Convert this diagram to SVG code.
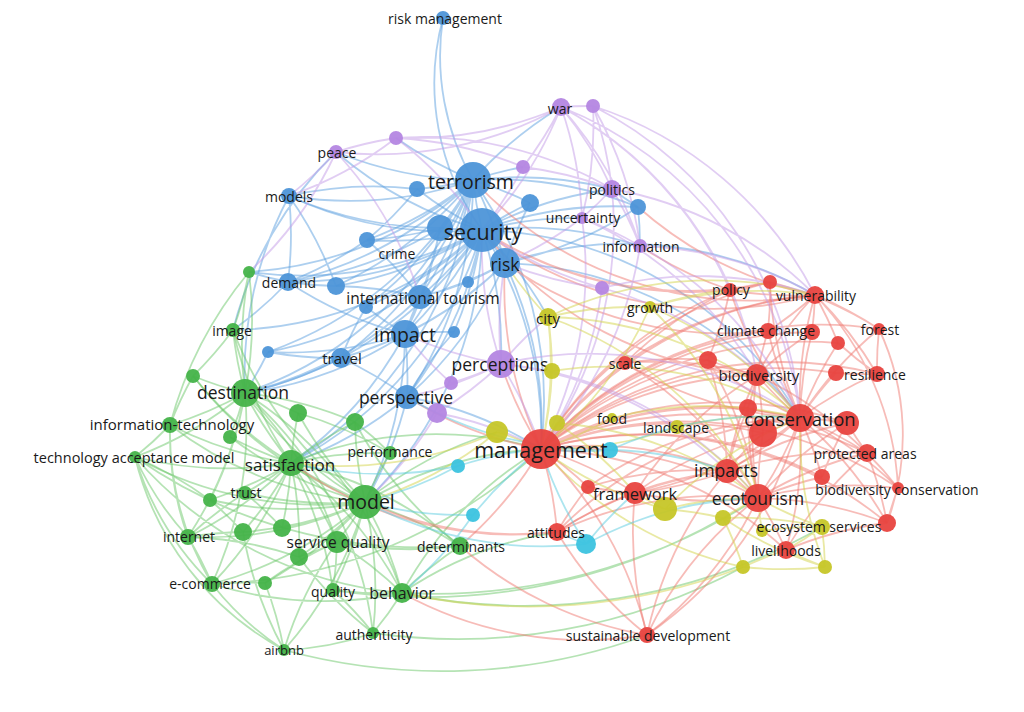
<svg xmlns="http://www.w3.org/2000/svg" width="1024" height="712" viewBox="0 0 1024 712">
<style>
.e{fill:none;stroke-width:1.8;stroke-opacity:.5}
.eb{stroke:#5c9fe0}.eg{stroke:#6cc76a}.er{stroke:#f07a72}.ep{stroke:#c39be8}.ey{stroke:#d4d44a}.ec{stroke:#5accdf}
.nb{fill:#4d95d8}.ng{fill:#45b349}.nr{fill:#e8433f}.np{fill:#b486e2}.ny{fill:#c6c628}.nc{fill:#3cc3df}
circle{fill-opacity:.95}
text{font-family:"Open Sans","DejaVu Sans",sans-serif;fill:#1a1a1a;text-anchor:middle;dominant-baseline:central}
</style>
<rect width="1024" height="712" fill="#fff"/>
<g id="connectors">
<path class="e eb" d="M482 230A380 380 0 0 1 473 180M482 230A380 380 0 0 1 440 228M482 230A380 380 0 0 1 417 189M482 230A380 380 0 0 1 530 203M482 230A380 380 0 0 1 638 207M482 230A380 380 0 0 1 289 196M482 230A380 380 0 0 1 367 240M482 230A380 380 0 0 1 505 263M482 230A380 380 0 0 1 288 282M482 230A380 380 0 0 1 336 286M482 230A380 380 0 0 1 420 297M482 230A380 380 0 0 1 366 307M482 230A380 380 0 0 1 468 282M482 230A380 380 0 0 1 405 334M482 230A380 380 0 0 1 454 332M482 230A380 380 0 0 1 341 358M482 230A380 380 0 0 1 407 397M482 230A380 380 0 0 1 268 352M482 230A380 380 0 0 1 245 393M482 230A380 380 0 0 1 291 463M482 230A380 380 0 0 1 233 330M482 230A380 380 0 0 1 541 449M482 230A380 380 0 0 1 612 189M482 230A380 380 0 0 1 640 246M482 230A380 380 0 0 1 501 364M482 230A380 380 0 0 1 800 418M482 230A380 380 0 0 1 336 152M482 230A380 380 0 0 1 365 502M482 230A380 380 0 0 1 582 218M482 230A380 380 0 0 1 548 317M482 230A380 380 0 0 1 249 272M482 230A250 250 0 0 1 443 18"/>
<path class="e eb" d="M473 180A250 250 0 0 1 443 18M473 180A380 380 0 0 1 440 228M473 180A380 380 0 0 1 417 189M473 180A380 380 0 0 1 530 203M473 180A380 380 0 0 1 638 207M473 180A380 380 0 0 1 289 196M473 180A380 380 0 0 1 367 240M473 180A380 380 0 0 1 505 263M473 180A380 380 0 0 1 288 282M473 180A380 380 0 0 1 336 286M473 180A380 380 0 0 1 420 297M473 180A380 380 0 0 1 405 334M473 180A380 380 0 0 1 341 358M473 180A380 380 0 0 1 407 397M473 180A380 380 0 0 1 245 393M473 180A380 380 0 0 1 249 272M473 180A380 380 0 0 1 561 107M473 180A380 380 0 0 1 612 189M473 180A380 380 0 0 1 336 152M473 180A380 380 0 0 1 396 138M473 180A380 380 0 0 1 523 167M473 180A380 380 0 0 1 541 449M473 180A380 380 0 0 1 291 463M473 180A380 380 0 0 1 366 307M473 180A380 380 0 0 1 268 352"/>
<path class="e eb" d="M440 228A380 380 0 0 1 367 240M440 228A380 380 0 0 1 405 334M440 228A380 380 0 0 1 420 297M440 228A380 380 0 0 1 288 282M440 228A380 380 0 0 1 289 196M505 263A380 380 0 0 1 405 334M505 263A380 380 0 0 1 420 297M505 263A380 380 0 0 1 341 358M505 263A380 380 0 0 1 407 397M505 263A380 380 0 0 1 468 282M505 263A380 380 0 0 1 530 203M405 334A380 380 0 0 1 341 358M405 334A380 380 0 0 1 420 297M405 334A380 380 0 0 1 407 397M405 334A380 380 0 0 1 288 282M405 334A380 380 0 0 1 366 307M405 334A380 380 0 0 1 454 332M405 334A380 380 0 0 1 268 352M367 240A380 380 0 0 1 288 282M367 240A380 380 0 0 1 420 297M289 196A380 380 0 0 1 288 282M289 196A380 380 0 0 1 336 286M289 196A380 380 0 0 1 417 189M341 358A380 380 0 0 1 407 397M341 358A380 380 0 0 1 268 352M341 358A380 380 0 0 1 366 307M336 286A380 380 0 0 1 420 297M336 286A380 380 0 0 1 288 282M468 282A380 380 0 0 1 420 297M407 397A380 380 0 0 1 454 332M417 189A380 380 0 0 1 367 240M638 207A380 380 0 0 1 612 189M638 207A380 380 0 0 1 640 246M638 207A380 380 0 0 1 505 263M341 358A380 380 0 0 1 245 393M405 334A380 380 0 0 1 245 393M405 334A380 380 0 0 1 291 463M405 334A380 380 0 0 1 365 502M407 397A380 380 0 0 1 365 502M407 397A380 380 0 0 1 291 463M505 263A380 380 0 0 1 541 449M505 263A380 380 0 0 1 815 295M505 263A380 380 0 0 1 800 418M288 282A380 380 0 0 1 233 330M288 282A380 380 0 0 1 249 272M268 352A380 380 0 0 1 245 393M407 397A380 380 0 0 1 541 449M420 297A380 380 0 0 1 245 393M289 196A380 380 0 0 0 245 393M336 152A380 380 0 0 0 233 330"/>
<path class="e eg" d="M365 502A380 380 0 0 1 291 463M365 502A380 380 0 0 1 245 393M365 502A380 380 0 0 1 337 542M365 502A380 380 0 0 1 402 593M365 502A380 380 0 0 1 333 590M365 502A380 380 0 0 1 460 546M365 502A380 380 0 0 1 245 493M365 502A380 380 0 0 1 188 537M365 502A380 380 0 0 1 212 584M365 502A380 380 0 0 1 355 422M365 502A380 380 0 0 1 298 413M365 502A380 380 0 0 1 390 453M365 502A380 380 0 0 1 243 532M365 502A380 380 0 0 1 282 528M365 502A380 380 0 0 1 299 557M365 502A380 380 0 0 1 373 633M365 502A380 380 0 0 1 284 650M365 502A380 380 0 0 1 170 425M365 502A380 380 0 0 1 230 437M365 502A380 380 0 0 1 135 457M365 502A380 380 0 0 1 210 500M365 502A380 380 0 0 1 265 583M365 502A380 380 0 0 1 193 376M365 502A380 380 0 0 1 233 330M365 502A380 380 0 0 1 541 449M365 502A380 380 0 0 1 497 432"/>
<path class="e eg" d="M291 463A380 380 0 0 1 245 393M291 463A380 380 0 0 1 337 542M291 463A380 380 0 0 1 245 493M291 463A380 380 0 0 1 298 413M291 463A380 380 0 0 1 230 437M291 463A380 380 0 0 1 170 425M291 463A380 380 0 0 1 135 457M291 463A380 380 0 0 1 210 500M291 463A380 380 0 0 1 243 532M291 463A380 380 0 0 1 282 528M291 463A380 380 0 0 1 333 590M291 463A380 380 0 0 1 402 593M291 463A380 380 0 0 1 188 537M291 463A380 380 0 0 1 212 584M291 463A380 380 0 0 1 355 422M291 463A380 380 0 0 1 390 453M291 463A380 380 0 0 1 299 557M291 463A380 380 0 0 1 460 546M291 463A380 380 0 0 1 541 449M291 463A380 380 0 0 1 193 376M291 463A380 380 0 0 1 233 330"/>
<path class="e eg" d="M245 393A380 380 0 0 1 233 330M245 393A380 380 0 0 1 249 272M245 393A380 380 0 0 1 193 376M245 393A380 380 0 0 1 170 425M245 393A380 380 0 0 1 230 437M245 393A380 380 0 0 1 298 413M245 393A380 380 0 0 1 135 457M245 393A380 380 0 0 1 402 593M245 393A380 380 0 0 1 373 633M245 393A380 380 0 0 1 188 537M245 393A380 380 0 0 1 212 584M245 393A380 380 0 0 1 337 542M245 393A380 380 0 0 1 355 422M245 393A380 380 0 0 1 210 500M170 425A380 380 0 0 1 135 457M170 425A300 300 0 0 0 188 537M170 425A300 300 0 0 0 212 584M170 425A380 380 0 0 1 193 376M135 457A300 300 0 0 0 188 537M135 457A300 300 0 0 0 212 584M135 457A380 380 0 0 1 210 500M135 457A300 300 0 0 0 284 650M188 537A380 380 0 0 1 212 584M188 537A380 380 0 0 1 243 532M188 537A380 380 0 0 1 245 493M212 584A380 380 0 0 1 265 583M212 584A300 300 0 0 0 284 650M265 583A380 380 0 0 1 284 650M265 583A380 380 0 0 1 337 542M337 542A380 380 0 0 1 333 590M337 542A380 380 0 0 1 402 593M337 542A380 380 0 0 1 299 557M402 593A380 380 0 0 1 373 633M402 593A380 380 0 0 1 460 546M402 593A380 380 0 0 1 333 590M333 590A380 380 0 0 1 373 633M284 650A380 380 0 0 1 243 532M284 650A380 380 0 0 1 337 542M373 633A380 380 0 0 1 299 557M460 546A380 380 0 0 1 355 422M249 272A380 380 0 0 1 233 330M249 272A380 380 0 0 1 245 393M233 330A380 380 0 0 1 193 376M355 422A380 380 0 0 1 390 453M298 413A380 380 0 0 1 390 453M460 546A380 380 0 0 1 337 542M402 593A380 380 0 0 1 541 449M402 593A380 380 0 0 1 557 532M402 593A600 600 0 0 0 758 498M333 590A600 600 0 0 0 723 518M284 650A600 600 0 0 0 647 635M135 457A400 400 0 0 0 402 593M212 584A380 380 0 0 0 402 593M284 650A300 300 0 0 0 373 633M188 537A380 380 0 0 1 299 557M249 272A400 400 0 0 0 170 425M210 500A380 380 0 0 1 243 532M245 493A380 380 0 0 1 282 528M373 633A600 600 0 0 0 743 567M402 593A600 600 0 0 0 822 527M135 457A500 500 0 0 0 460 546M212 584A500 500 0 0 0 541 449"/>
<path class="e er" d="M541 449A380 380 0 0 1 800 418M541 449A380 380 0 0 1 727 471M541 449A380 380 0 0 1 635 493M541 449A380 380 0 0 1 758 498M541 449A380 380 0 0 1 757 375M541 449A380 380 0 0 1 625 363M541 449A380 380 0 0 1 557 532M541 449A380 380 0 0 1 647 635M541 449A380 380 0 0 1 588 487M541 449A380 380 0 0 1 867 453M541 449A380 380 0 0 1 815 295M541 449A380 380 0 0 1 768 331M541 449A380 380 0 0 1 786 550M541 449A380 380 0 0 1 730 290M541 449A380 380 0 0 1 708 360M541 449A380 380 0 0 1 748 408M541 449A380 380 0 0 1 763 433M541 449A380 380 0 0 1 847 423M541 449A380 380 0 0 1 877 374M541 449A380 380 0 0 1 501 364M541 449A380 380 0 0 1 460 546M541 449A380 380 0 0 1 887 523M541 449A380 380 0 0 1 898 488"/>
<path class="e er" d="M800 418A380 380 0 0 1 757 375M800 418A380 380 0 0 1 763 433M800 418A380 380 0 0 1 847 423M800 418A380 380 0 0 1 867 453M800 418A380 380 0 0 1 748 408M800 418A380 380 0 0 1 727 471M800 418A380 380 0 0 1 758 498M800 418A380 380 0 0 1 822 477M800 418A380 380 0 0 1 815 295M800 418A380 380 0 0 1 768 331M800 418A380 380 0 0 1 812 332M800 418A380 380 0 0 1 879 329M800 418A380 380 0 0 1 877 374M800 418A380 380 0 0 1 836 373M800 418A380 380 0 0 1 898 488M800 418A380 380 0 0 1 887 523M800 418A380 380 0 0 1 786 550M800 418A380 380 0 0 1 838 343M800 418A380 380 0 0 1 708 360M800 418A380 380 0 0 1 625 363M800 418A380 380 0 0 1 635 493M800 418A380 380 0 0 1 647 635M800 418A380 380 0 0 1 730 290M800 418A380 380 0 0 1 770 282"/>
<path class="e er" d="M758 498A380 380 0 0 1 867 453M758 498A380 380 0 0 1 727 471M758 498A380 380 0 0 1 786 550M758 498A380 380 0 0 1 898 488M758 498A380 380 0 0 1 887 523M758 498A380 380 0 0 1 822 477M758 498A380 380 0 0 1 757 375M758 498A380 380 0 0 1 635 493M758 498A380 380 0 0 1 647 635M758 498A380 380 0 0 1 763 433M758 498A380 380 0 0 1 847 423M758 498A380 380 0 0 1 748 408M727 471A380 380 0 0 1 635 493M727 471A380 380 0 0 1 748 408M727 471A380 380 0 0 1 867 453M727 471A380 380 0 0 1 757 375M757 375A380 380 0 0 1 768 331M757 375A380 380 0 0 1 708 360M757 375A380 380 0 0 1 867 453M757 375A380 380 0 0 1 812 332M815 295A380 380 0 0 1 768 331M815 295A380 380 0 0 1 770 282M815 295A380 380 0 0 1 730 290M815 295A380 380 0 0 1 812 332M815 295A380 380 0 0 1 879 329M815 295A380 380 0 0 1 877 374M815 295A380 380 0 0 1 838 343M770 282A380 380 0 0 1 730 290M770 282A380 380 0 0 1 768 331M770 282A380 380 0 0 1 879 329M877 374A380 380 0 0 1 879 329M877 374A380 380 0 0 1 836 373M877 374A380 380 0 0 1 838 343M867 453A380 380 0 0 1 887 523M867 453A380 380 0 0 1 898 488M867 453A380 380 0 0 1 847 423M887 523A380 380 0 0 1 898 488M822 477A380 380 0 0 1 847 423M786 550A380 380 0 0 1 887 523M786 550A380 380 0 0 1 867 453M647 635A380 380 0 0 1 557 532M647 635A380 380 0 0 1 635 493M647 635A380 380 0 0 1 758 498M647 635A380 380 0 0 1 727 471M557 532A380 380 0 0 1 635 493M557 532A380 380 0 0 1 588 487M625 363A380 380 0 0 1 730 290M625 363A380 380 0 0 1 708 360M625 363A380 380 0 0 1 815 295M730 290A380 380 0 0 1 708 360M635 493A380 380 0 0 1 588 487M879 329A250 250 0 0 1 887 523M815 295A300 300 0 0 1 898 488M730 290A380 380 0 0 1 640 246M815 295A380 380 0 0 1 638 207M557 532A380 380 0 0 1 365 502M557 532A380 380 0 0 1 291 463M647 635A380 380 0 0 1 402 593M647 635A380 380 0 0 1 460 546M541 449A380 380 0 0 1 407 397M541 449A380 380 0 0 1 505 263"/>
<path class="e er" d="M541 449A380 380 0 0 1 770 282M541 449A380 380 0 0 1 879 329M541 449A380 380 0 0 1 838 343M541 449A380 380 0 0 1 836 373M541 449A380 380 0 0 1 822 477M541 449A380 380 0 0 1 812 332M625 363A380 380 0 0 1 757 375M625 363A380 380 0 0 1 758 498M635 493A380 380 0 0 1 757 375M635 493A380 380 0 0 1 727 471M635 493A380 380 0 0 1 763 433M557 532A380 380 0 0 1 758 498M557 532A380 380 0 0 1 800 418M557 532A380 380 0 0 1 727 471M588 487A380 380 0 0 1 800 418M588 487A380 380 0 0 1 727 471M727 471A380 380 0 0 1 763 433M727 471A380 380 0 0 1 847 423M757 375A380 380 0 0 1 748 408M757 375A380 380 0 0 1 763 433M757 375A380 380 0 0 1 815 295M708 360A380 380 0 0 1 727 471M708 360A380 380 0 0 1 758 498M815 295A380 380 0 0 1 482 230M815 295A380 380 0 0 1 473 180M730 290A380 380 0 0 1 482 230M757 375A380 380 0 0 1 482 230M770 282A380 380 0 0 1 482 230M768 331A380 380 0 0 1 505 263"/>
<path class="e ep" d="M561 107A380 380 0 0 1 593 106M561 107A380 380 0 0 1 523 167M561 107A380 380 0 0 1 482 230M561 107A380 380 0 0 1 612 189M561 107A380 380 0 0 1 582 218M561 107A380 380 0 0 1 640 246M561 107A380 380 0 0 1 396 138M561 107A380 380 0 0 1 336 152M593 106A380 380 0 0 1 612 189M593 106A380 380 0 0 1 582 218M593 106A380 380 0 0 1 640 246M593 106A380 380 0 0 1 815 295M561 107A380 380 0 0 1 730 290M336 152A380 380 0 0 1 396 138M336 152A380 380 0 0 1 289 196M336 152A380 380 0 0 1 420 297M396 138A380 380 0 0 1 482 230M396 138A380 380 0 0 1 523 167M396 138A380 380 0 0 1 612 189M523 167A380 380 0 0 1 482 230M523 167A380 380 0 0 1 612 189M612 189A380 380 0 0 1 582 218M612 189A380 380 0 0 1 640 246M612 189A380 380 0 0 1 815 295M582 218A380 380 0 0 1 505 263M582 218A380 380 0 0 1 640 246M640 246A380 380 0 0 1 800 418M602 288A380 380 0 0 1 505 263M602 288A380 380 0 0 1 482 230M602 288A380 380 0 0 1 541 449M501 364A380 380 0 0 1 505 263M501 364A380 380 0 0 1 405 334M501 364A380 380 0 0 1 541 449M501 364A380 380 0 0 1 451 383M501 364A380 380 0 0 1 437 413M501 364A380 380 0 0 1 548 317M501 364A380 380 0 0 1 407 397M451 383A380 380 0 0 1 405 334M437 413A380 380 0 0 1 407 397M437 413A380 380 0 0 1 541 449M437 413A380 380 0 0 1 365 502M582 218A380 380 0 0 1 757 375M612 189A380 380 0 0 1 541 449M336 152A380 380 0 0 1 249 272M396 138A380 380 0 0 1 289 196M561 107A380 380 0 0 1 800 418M501 364A380 380 0 0 1 482 230M501 364A380 380 0 0 1 800 418M501 364A380 380 0 0 1 727 471M501 364A380 380 0 0 1 758 498M602 288A380 380 0 0 1 800 418M602 288A380 380 0 0 1 815 295M640 246A380 380 0 0 1 815 295M640 246A380 380 0 0 1 541 449M561 107A380 380 0 0 1 757 375M593 106A380 380 0 0 1 800 418M582 218A380 380 0 0 1 541 449"/>
<path class="e ey" d="M548 317A380 380 0 0 1 505 263M548 317A380 380 0 0 1 541 449M548 317A380 380 0 0 1 552 371M548 317A380 380 0 0 1 650 307M548 317A380 380 0 0 1 758 498M552 371A380 380 0 0 1 541 449M497 432A380 380 0 0 1 541 449M557 423A380 380 0 0 1 541 449M612 418A380 380 0 0 1 541 449M677 427A380 380 0 0 1 800 418M677 427A380 380 0 0 1 541 449M665 509A380 380 0 0 1 541 449M665 509A380 380 0 0 1 635 493M665 509A380 380 0 0 1 758 498M665 509A380 380 0 0 1 723 518M723 518A380 380 0 0 1 758 498M723 518A380 380 0 0 1 822 527M723 518A380 380 0 0 1 743 567M762 531A380 380 0 0 1 758 498M762 531A380 380 0 0 1 822 527M822 527A380 380 0 0 1 758 498M822 527A380 380 0 0 1 786 550M822 527A380 380 0 0 1 825 567M743 567A380 380 0 0 1 786 550M743 567A380 380 0 0 0 825 567M825 567A380 380 0 0 1 786 550M743 567A380 380 0 0 1 541 449M825 567A380 380 0 0 1 800 418M650 307A380 380 0 0 1 815 295M650 307A380 380 0 0 1 730 290M650 307A380 380 0 0 1 541 449M497 432A380 380 0 0 1 365 502M557 423A380 380 0 0 1 635 493M743 567A600 600 0 0 1 402 593M825 567A380 380 0 0 1 723 518M665 509A380 380 0 0 1 800 418M497 432A380 380 0 0 1 291 463M548 317A380 380 0 0 1 800 418M548 317A380 380 0 0 1 815 295M650 307A380 380 0 0 1 800 418M650 307A380 380 0 0 1 758 498M552 371A380 380 0 0 1 800 418M677 427A380 380 0 0 1 758 498M557 423A380 380 0 0 1 758 498M612 418A380 380 0 0 1 800 418"/>
<path class="e ec" d="M610 450A380 380 0 0 1 541 449M610 450A380 380 0 0 1 800 418M458 466A380 380 0 0 1 541 449M458 466A380 380 0 0 1 365 502M473 515A380 380 0 0 1 541 449M473 515A380 380 0 0 1 365 502M586 544A380 380 0 0 1 541 449M586 544A380 380 0 0 1 557 532M586 544A380 380 0 0 1 635 493M586 544A380 380 0 0 1 758 498M458 466A380 380 0 0 1 291 463M473 515A380 380 0 0 1 402 593M610 450A380 380 0 0 1 407 397M586 544A380 380 0 0 1 365 502M610 450A380 380 0 0 1 727 471"/>
</g>
<g id="nodes">
<g id="n-risk-management"><circle class="nb" cx="443" cy="18" r="7"/><text x="445" y="18" font-size="14">risk management</text></g>
<g id="n-terrorism"><circle class="nb" cx="473" cy="180" r="18"/><text x="471" y="181" font-size="19.5">terrorism</text></g>
<g id="n-blue-1"><circle class="nb" cx="440" cy="228" r="13"/></g>
<g id="n-security"><circle class="nb" cx="482" cy="230" r="22"/><text x="483" y="231" font-size="21.5">security</text></g>
<g id="n-blue-2"><circle class="nb" cx="417" cy="189" r="8"/></g>
<g id="n-blue-3"><circle class="nb" cx="530" cy="203" r="9"/></g>
<g id="n-blue-4"><circle class="nb" cx="638" cy="207" r="8"/></g>
<g id="n-models"><circle class="nb" cx="289" cy="196" r="8"/><text x="289" y="196" font-size="14">models</text></g>
<g id="n-crime"><circle class="nb" cx="367" cy="240" r="8"/><text x="397" y="253" font-size="14">crime</text></g>
<g id="n-risk"><circle class="nb" cx="505" cy="263" r="15"/><text x="505" y="264" font-size="17.5">risk</text></g>
<g id="n-demand"><circle class="nb" cx="288" cy="282" r="9"/><text x="289" y="282" font-size="14">demand</text></g>
<g id="n-blue-5"><circle class="nb" cx="336" cy="286" r="9"/></g>
<g id="n-blue-6"><circle class="nb" cx="366" cy="307" r="7"/></g>
<g id="n-blue-7"><circle class="nb" cx="468" cy="282" r="6"/></g>
<g id="n-international-tourism"><circle class="nb" cx="420" cy="297" r="12"/><text x="423" y="298" font-size="15.5">international tourism</text></g>
<g id="n-impact"><circle class="nb" cx="405" cy="334" r="14"/><text x="405" y="334" font-size="19.5">impact</text></g>
<g id="n-blue-8"><circle class="nb" cx="454" cy="332" r="6"/></g>
<g id="n-travel"><circle class="nb" cx="341" cy="358" r="10"/><text x="342" y="358" font-size="15">travel</text></g>
<g id="n-blue-9"><circle class="nb" cx="268" cy="352" r="6"/></g>
<g id="n-perspective"><circle class="nb" cx="407" cy="397" r="12"/><text x="406" y="397" font-size="17.5">perspective</text></g>
<g id="n-peace"><circle class="np" cx="336" cy="152" r="7"/><text x="337" y="152" font-size="14">peace</text></g>
<g id="n-purple-1"><circle class="np" cx="396" cy="138" r="7"/></g>
<g id="n-war"><circle class="np" cx="561" cy="107" r="9"/><text x="560" y="108" font-size="14">war</text></g>
<g id="n-purple-2"><circle class="np" cx="593" cy="106" r="7"/></g>
<g id="n-purple-3"><circle class="np" cx="523" cy="167" r="7"/></g>
<g id="n-politics"><circle class="np" cx="612" cy="189" r="9"/><text x="612" y="189" font-size="14">politics</text></g>
<g id="n-uncertainty"><circle class="np" cx="582" cy="218" r="6"/><text x="583" y="217" font-size="14">uncertainty</text></g>
<g id="n-information"><circle class="np" cx="640" cy="246" r="7"/><text x="641" y="246" font-size="14">information</text></g>
<g id="n-purple-4"><circle class="np" cx="602" cy="288" r="7"/></g>
<g id="n-perceptions"><circle class="np" cx="501" cy="364" r="14"/><text x="500" y="364" font-size="17.5">perceptions</text></g>
<g id="n-purple-5"><circle class="np" cx="451" cy="383" r="7"/></g>
<g id="n-purple-6"><circle class="np" cx="437" cy="413" r="10"/></g>
<g id="n-city"><circle class="ny" cx="548" cy="317" r="9"/><text x="548" y="318" font-size="15">city</text></g>
<g id="n-growth"><circle class="ny" cx="650" cy="307" r="6"/><text x="650" y="307" font-size="14">growth</text></g>
<g id="n-yellow-1"><circle class="ny" cx="552" cy="371" r="8"/></g>
<g id="n-yellow-2"><circle class="ny" cx="497" cy="432" r="11"/></g>
<g id="n-yellow-3"><circle class="ny" cx="557" cy="423" r="8"/></g>
<g id="n-food"><circle class="ny" cx="612" cy="418" r="5"/><text x="612" y="418" font-size="14">food</text></g>
<g id="n-landscape"><circle class="ny" cx="677" cy="427" r="7"/><text x="676" y="427" font-size="14">landscape</text></g>
<g id="n-yellow-4"><circle class="ny" cx="665" cy="509" r="12"/></g>
<g id="n-yellow-5"><circle class="ny" cx="723" cy="518" r="8"/></g>
<g id="n-yellow-6"><circle class="ny" cx="762" cy="531" r="6"/></g>
<g id="n-yellow-8"><circle class="ny" cx="743" cy="567" r="7"/></g>
<g id="n-yellow-9"><circle class="ny" cx="825" cy="567" r="7"/></g>
<g id="n-cyan-1"><circle class="nc" cx="610" cy="450" r="8"/></g>
<g id="n-cyan-2"><circle class="nc" cx="458" cy="466" r="7"/></g>
<g id="n-cyan-3"><circle class="nc" cx="473" cy="515" r="7"/></g>
<g id="n-cyan-4"><circle class="nc" cx="586" cy="544" r="10"/></g>
<g id="n-management"><circle class="nr" cx="541" cy="449" r="20"/><text x="541" y="449" font-size="21.5">management</text></g>
<g id="n-scale"><circle class="nr" cx="625" cy="363" r="7"/><text x="625" y="363" font-size="14">scale</text></g>
<g id="n-policy"><circle class="nr" cx="730" cy="290" r="7"/><text x="731" y="289" font-size="14">policy</text></g>
<g id="n-red-1"><circle class="nr" cx="770" cy="282" r="7"/></g>
<g id="n-vulnerability"><circle class="nr" cx="815" cy="295" r="9"/><text x="816" y="295" font-size="14">vulnerability</text></g>
<g id="n-climate-change"><circle class="nr" cx="768" cy="331" r="8"/><circle class="nr" cx="812" cy="332" r="8"/><text x="766" y="330" font-size="14">climate change</text></g>
<g id="n-forest"><circle class="nr" cx="879" cy="329" r="6"/><text x="880" y="329" font-size="14">forest</text></g>
<g id="n-red-3"><circle class="nr" cx="838" cy="343" r="7"/></g>
<g id="n-red-4"><circle class="nr" cx="708" cy="360" r="9"/></g>
<g id="n-biodiversity"><circle class="nr" cx="757" cy="375" r="11"/><text x="759" y="375" font-size="15">biodiversity</text></g>
<g id="n-red-5"><circle class="nr" cx="836" cy="373" r="8"/></g>
<g id="n-resilience"><circle class="nr" cx="877" cy="374" r="8"/><text x="875" y="374" font-size="14">resilience</text></g>
<g id="n-red-6"><circle class="nr" cx="748" cy="408" r="9"/></g>
<g id="n-red-7"><circle class="nr" cx="763" cy="433" r="14"/></g>
<g id="n-red-8"><circle class="nr" cx="847" cy="423" r="12"/></g>
<g id="n-conservation"><circle class="nr" cx="800" cy="418" r="14"/><text x="800" y="418" font-size="18.5">conservation</text></g>
<g id="n-protected-areas"><circle class="nr" cx="867" cy="453" r="9"/><text x="865" y="453" font-size="14">protected areas</text></g>
<g id="n-impacts"><circle class="nr" cx="727" cy="471" r="12"/><text x="726" y="470" font-size="17.5">impacts</text></g>
<g id="n-red-9"><circle class="nr" cx="822" cy="477" r="8"/></g>
<g id="n-ecotourism"><circle class="nr" cx="758" cy="498" r="14"/><text x="758" y="498" font-size="17.5">ecotourism</text></g>
<g id="n-biodiversity-conservation"><circle class="nr" cx="898" cy="488" r="6"/><text x="897" y="489" font-size="14">biodiversity conservation</text></g>
<g id="n-red-10"><circle class="nr" cx="588" cy="487" r="7"/></g>
<g id="n-framework"><circle class="nr" cx="635" cy="493" r="11"/><text x="635" y="493" font-size="16.5">framework</text></g>
<g id="n-attitudes"><circle class="nr" cx="557" cy="532" r="9"/><text x="556" y="532" font-size="14">attitudes</text></g>
<g id="n-red-11"><circle class="nr" cx="887" cy="523" r="9"/></g>
<g id="n-ecosystem-services"><circle class="ny" cx="822" cy="527" r="8"/><text x="819" y="526" font-size="14">ecosystem services</text></g>
<g id="n-livelihoods"><circle class="nr" cx="786" cy="550" r="9"/><text x="786" y="550" font-size="14">livelihoods</text></g>
<g id="n-sustainable-development"><circle class="nr" cx="647" cy="635" r="8"/><text x="648" y="635" font-size="14">sustainable development</text></g>
<g id="n-green-1"><circle class="ng" cx="249" cy="272" r="6"/></g>
<g id="n-image"><circle class="ng" cx="233" cy="330" r="7"/><text x="232" y="330" font-size="14">image</text></g>
<g id="n-green-2"><circle class="ng" cx="193" cy="376" r="7"/></g>
<g id="n-destination"><circle class="ng" cx="245" cy="393" r="14"/><text x="243" y="392" font-size="17.5">destination</text></g>
<g id="n-green-3"><circle class="ng" cx="298" cy="413" r="9"/></g>
<g id="n-information-technology"><circle class="ng" cx="170" cy="425" r="8"/><text x="172" y="424" font-size="15">information-technology</text></g>
<g id="n-green-4"><circle class="ng" cx="230" cy="437" r="7"/></g>
<g id="n-technology-acceptance-model"><circle class="ng" cx="135" cy="457" r="6"/><text x="134" y="457" font-size="14.5">technology acceptance model</text></g>
<g id="n-green-5"><circle class="ng" cx="355" cy="422" r="9"/></g>
<g id="n-satisfaction"><circle class="ng" cx="291" cy="463" r="13"/><text x="290" y="464" font-size="17">satisfaction</text></g>
<g id="n-performance"><circle class="ng" cx="390" cy="453" r="7"/><text x="390" y="451" font-size="14">performance</text></g>
<g id="n-green-6"><circle class="ng" cx="210" cy="500" r="7"/></g>
<g id="n-trust"><circle class="ng" cx="245" cy="493" r="7"/><text x="246" y="492" font-size="14">trust</text></g>
<g id="n-model"><circle class="ng" cx="365" cy="502" r="17"/><text x="366" y="501" font-size="19.5">model</text></g>
<g id="n-green-7"><circle class="ng" cx="243" cy="532" r="9"/></g>
<g id="n-green-8"><circle class="ng" cx="282" cy="528" r="9"/></g>
<g id="n-internet"><circle class="ng" cx="188" cy="537" r="8"/><text x="189" y="536" font-size="14">internet</text></g>
<g id="n-green-9"><circle class="ng" cx="299" cy="557" r="9"/></g>
<g id="n-service-quality"><circle class="ng" cx="337" cy="542" r="11"/><text x="338" y="542" font-size="15.5">service quality</text></g>
<g id="n-e-commerce"><circle class="ng" cx="212" cy="584" r="8"/><text x="210" y="583" font-size="14">e-commerce</text></g>
<g id="n-green-10"><circle class="ng" cx="265" cy="583" r="7"/></g>
<g id="n-quality"><circle class="ng" cx="333" cy="590" r="7"/><text x="333" y="591" font-size="14">quality</text></g>
<g id="n-behavior"><circle class="ng" cx="402" cy="593" r="10"/><text x="402" y="593" font-size="16">behavior</text></g>
<g id="n-determinants"><circle class="ng" cx="460" cy="546" r="9"/><text x="461" y="546" font-size="14">determinants</text></g>
<g id="n-authenticity"><circle class="ng" cx="373" cy="633" r="6"/><text x="374" y="634" font-size="14">authenticity</text></g>
<g id="n-airbnb"><circle class="ng" cx="284" cy="650" r="6"/><text x="284" y="650" font-size="13">airbnb</text></g>
</g>
</svg>
